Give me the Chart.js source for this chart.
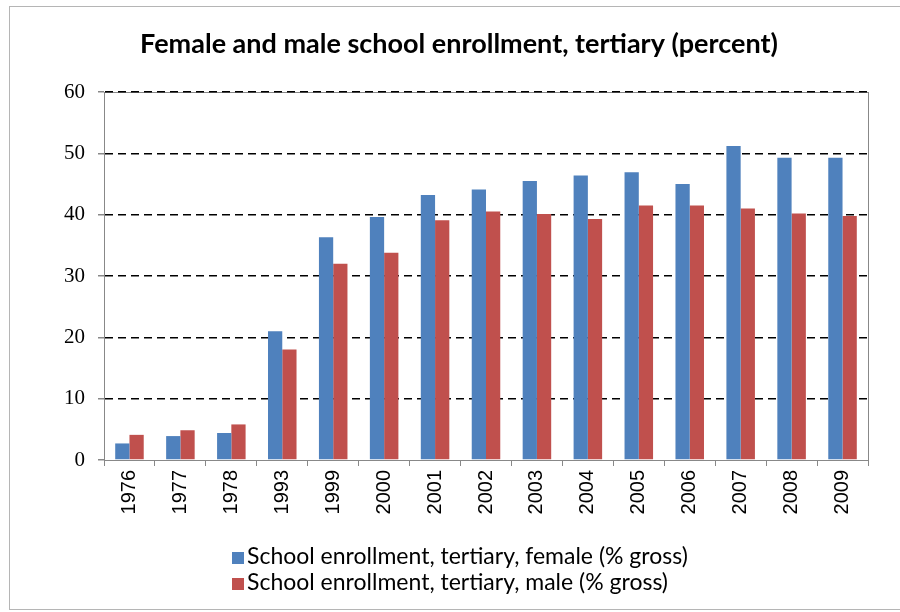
<!DOCTYPE html>
<html>
<head>
<meta charset="utf-8">
<script src="https://cdn.jsdelivr.net/npm/chart.js@4/dist/chart.umd.min.js"></script>
<style>
  body { margin: 0; background: #fff; }
  #wrap { position: relative; width: 900px; height: 612px; }
  #legend { position: absolute; left: 232px; top: 542px; font-family: Lato, sans-serif; font-size: 23px; color: #000; }
  #legend div { height: 26px; line-height: 26px; white-space: nowrap; }
  #legend span.box { display: inline-block; width: 12px; height: 12px; margin-right: 3px; vertical-align: 0px; }
</style>
</head>
<body>
<div id="wrap">
  <canvas id="enrollment" width="900" height="612"></canvas>
  <div id="legend"></div>
</div>
<script>
const years = ["1976", "1977", "1978", "1993", "1999", "2000", "2001", "2002", "2003", "2004", "2005", "2006", "2007", "2008", "2009"];
const female = [2.7, 3.9, 4.4, 21.0, 36.3, 39.6, 43.2, 44.1, 45.5, 46.4, 46.9, 45.0, 51.2, 49.3, 49.3];
const male = [4.1, 4.85, 5.8, 18.0, 32.0, 33.8, 39.1, 40.5, 40.1, 39.3, 41.5, 41.5, 41.0, 40.2, 39.8];
const seriesNames = ["School enrollment, tertiary, female (% gross)", "School enrollment, tertiary, male (% gross)"];
const colors = ["#4F81BD", "#C0504D"];

// frame round the plot and round the whole chart
const frame = {
  id: "frame",
  beforeDraw(chart) {
    const c = chart.ctx, a = chart.chartArea;
    c.save();
    c.fillStyle = "#fff";
    c.fillRect(0, 0, chart.width, chart.height);
    c.strokeStyle = "#b5b5b5";
    c.lineWidth = 1;
    c.strokeRect(9.5, 6.5, 1000, 603);
    c.strokeStyle = "#888";
    c.strokeRect(a.left + 0.5, a.top + 0.5, a.right - a.left, a.bottom - a.top);
    c.restore();
  }
};

var ctx = document.getElementById("enrollment");
var chart = new Chart(ctx, {
  type: "bar",
  data: {
    labels: years,
    datasets: [
      { label: seriesNames[0], data: female, backgroundColor: colors[0], barPercentage: 1, categoryPercentage: 0.56 },
      { label: seriesNames[1], data: male, backgroundColor: colors[1], barPercentage: 1, categoryPercentage: 0.56 },
    ],
  },
  options: {
    responsive: false,
    animation: false,
    layout: { padding: { right: 32, left: 50, bottom: 0 } },
    plugins: {
      legend: { display: false },
      tooltip: { enabled: false },
      title: {
        display: true,
        text: "Female and male school enrollment, tertiary (percent)",
        color: "#000",
        font: { family: "Lato", size: 27, weight: "bold" },
        padding: { top: 28, bottom: 31.6 },
      },
    },
    scales: {
      x: {
        afterFit: (s) => { s.height = 152; },
        grid: { drawOnChartArea: false, color: "#888", tickLength: 6, offset: true },
        border: { color: "#888" },
        ticks: {
          maxRotation: 90, minRotation: 90, padding: 4,
          color: "#000",
          font: { family: "Liberation Sans", size: 20 },
        },
      },
      y: {
        min: 0, max: 60,
        afterFit: (s) => { s.width = 54; },
        grid: {
          color: (c) => (c.tick && c.tick.value === 0 ? "rgba(0,0,0,0)" : "#000"),
          tickColor: "#888",
          tickLength: 6,
          lineWidth: 1.5,
        },
        border: { color: "#888", dash: [8, 5] },
        ticks: {
          stepSize: 10, padding: 13,
          color: "#000",
          font: { family: "Liberation Serif", size: 21 },
        },
      },
    },
  },
  plugins: [frame],
});

var legend = document.getElementById("legend");
seriesNames.forEach(function (name, i) {
  var row = document.createElement("div");
  var box = document.createElement("span");
  box.className = "box";
  box.style.background = colors[i];
  row.appendChild(box);
  row.appendChild(document.createTextNode(name));
  legend.appendChild(row);
});
</script>
</body>
</html>
